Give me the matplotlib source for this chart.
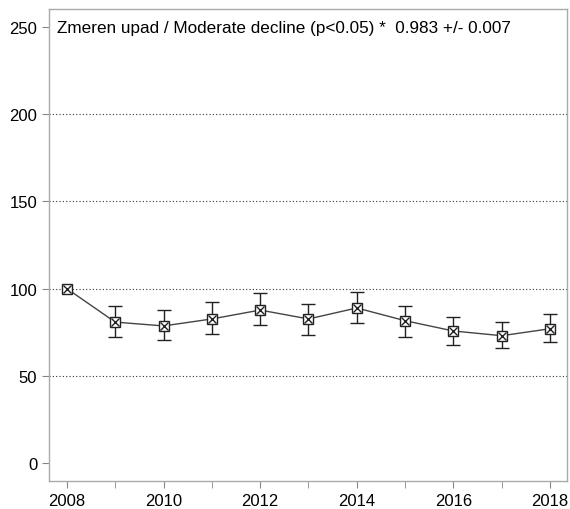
import numpy as np
import matplotlib
matplotlib.use('Agg')
from matplotlib import pyplot as plt

years = [2008, 2009, 2010, 2011, 2012, 2013, 2014, 2015, 2016, 2017, 2018]
index = [100, 80.8, 78.6, 82.6, 87.7, 82.6, 88.9, 81.6, 75.7, 73.0, 77.0]
upper = [100, 90.0, 87.7, 92.3, 97.5, 91.2, 98.0, 90.0, 83.5, 81.0, 85.6]
lower = [100, 72.2, 70.5, 74.0, 79.0, 73.4, 80.3, 72.4, 67.5, 65.8, 69.2]
trend_text = 'Zmeren upad / Moderate decline (p<0.05) *  0.983 +/- 0.007'

plt.rcParams['font.family'] = ['Liberation Sans', 'DejaVu Sans']

fig = plt.figure(figsize=(5.7, 5.1), dpi=100)
ax = fig.add_axes([49 / 570, 1 - 482 / 510, (567 - 49) / 570, (482 - 10) / 510])

# error bars (none for the base year)
idx = np.array(index)
err_lo = idx - np.array(lower)
err_hi = np.array(upper) - idx
ax.errorbar(years[1:], index[1:], yerr=[err_lo[1:], err_hi[1:]], fmt='none',
            ecolor='#222222', elinewidth=1.0, capsize=5, capthick=1.0, zorder=2)
ax.plot(years, index, color='#444444', lw=1.0, zorder=3)
ax.plot(years, index, ls='none', marker='s', ms=6.5, mfc='white', mec='#222222', mew=1.0, zorder=4)
ax.plot(years, index, ls='none', marker='x', ms=5.5, mec='#222222', mew=1.0, zorder=5)

ax.set_xlim(2007.63, 2018.35)
ax.set_ylim(-10.3, 260.3)
ax.set_xticks(range(2008, 2019, 2))
ax.set_xticks(range(2008, 2019), minor=True)
ax.set_yticks([0, 50, 100, 150, 200, 250])
for y in [50, 100, 150, 200]:
    ax.axhline(y, color='#333333', ls=(0, (1, 2)), lw=0.8, zorder=1)

for s in ax.spines.values():
    s.set_color('#aaaaaa')
    s.set_linewidth(1.0)
ax.tick_params(axis='both', which='both', direction='out', color='#888888', labelsize=12, labelcolor='black')
ax.tick_params(axis='both', which='major', length=5)
ax.tick_params(axis='x', which='minor', length=5)

fig.text(57 / 570, 1 - 28 / 510, trend_text, fontsize=12.3, va='center', ha='left')

fig.savefig('out.png', dpi=100)
